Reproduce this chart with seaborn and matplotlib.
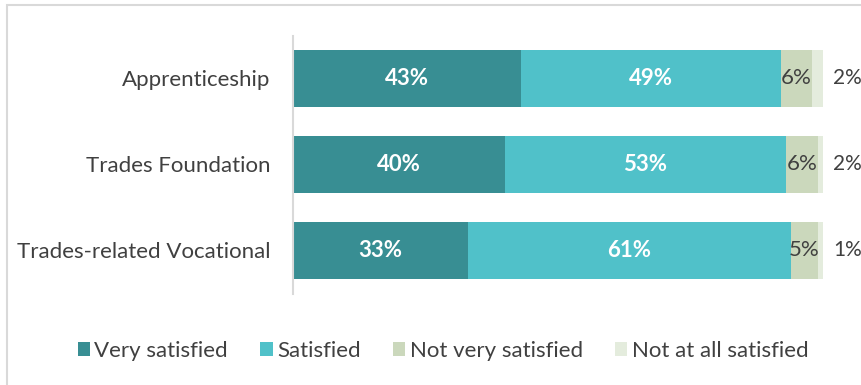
import matplotlib
matplotlib.use("Agg")
import matplotlib.pyplot as plt
import seaborn as sns
import pandas as pd
import numpy as np
from matplotlib.patches import Rectangle, Patch

categories = ["Apprenticeship", "Trades Foundation", "Trades-related Vocational"]
series_names = ["Very satisfied", "Satisfied", "Not very satisfied", "Not at all satisfied"]
very_satisfied = [43, 40, 33]
satisfied = [49, 53, 61]
not_very_satisfied = [6, 6, 5]
not_at_all_satisfied = [2, 2, 1]
colors = ["#388E93", "#50C1C9", "#CBD8BC", "#E4ECDD"]

sns.set_theme(style="white")
plt.rcParams['font.family'] = ['Lato', 'DejaVu Sans']

values = [very_satisfied, satisfied, not_very_satisfied, not_at_all_satisfied]
rows = []
for s, vals in zip(series_names, values):
    for c, v in zip(categories, vals):
        rows.append({"category": c, "series": s, "value": v})
df = pd.DataFrame(rows)

fig = plt.figure(figsize=(8.61, 3.85), dpi=100)
ax = fig.add_axes([293/861, 1-293.5/385, 530/861, 258/385])

left = np.zeros(len(categories))
for i, (s, vals) in enumerate(zip(series_names, values)):
    sub = df[df.series == s].copy()
    sns.barplot(data=sub, x="value", y="category", order=categories, color=colors[i],
                left=left, width=0.66, ax=ax, orient="h", saturation=1, linewidth=0)
    for j, v in enumerate(vals):
        if i < 2:
            ax.text(left[j] + v/2, j, f"{v}%", ha="center", va="center",
                    color="white", fontsize=16, fontweight="bold")
        elif i == 2:
            ax.text(left[j] + v/2, j, f"{v}%", ha="center", va="center",
                    color="#404040", fontsize=16)
        else:
            ax.text(101.9, j, f"{v}%", ha="left", va="center",
                    color="#404040", fontsize=15, clip_on=False)
    left = left + np.array(vals)

ax.set_xlim(0, 100)
ax.set_ylim(2.5, -0.5)
ax.set_xlabel("")
ax.set_ylabel("")
ax.set_xticks([])
ax.tick_params(axis="y", length=0, pad=16, labelsize=16, labelcolor="#404040")
for sp in ["top", "right", "bottom"]:
    ax.spines[sp].set_visible(False)
ax.spines["left"].set_color("#D9D9D9")
ax.spines["left"].set_linewidth(1.5)

handles = [Patch(facecolor=c, edgecolor="none") for c in colors]
leg = fig.legend(handles, series_names, loc="center", bbox_to_anchor=(443/861, 1-351/385),
                 ncol=4, frameon=False, fontsize=16, handlelength=0.55, handleheight=0.55,
                 handletextpad=0.2, columnspacing=1.45)
for t in leg.get_texts():
    t.set_color("#404040")

fig.patches.append(Rectangle((6.5/861, -0.1), 1.2, 1.1 - 5.5/385, transform=fig.transFigure,
                             fill=False, edgecolor="#D9D9D9", linewidth=1.5))

fig.savefig("out.png", dpi=100)
